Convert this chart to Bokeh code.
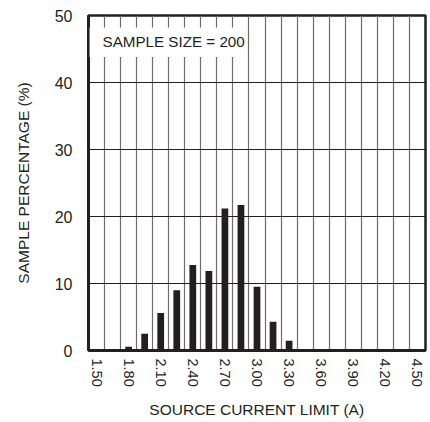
from bokeh.plotting import figure
from bokeh.models import FixedTicker, BoxAnnotation, Label, Range1d
from bokeh.embed import file_html
from bokeh.resources import INLINE

# Data (bins of source current limit, A) and sample percentage (%)
bins = [1.50, 1.65, 1.80, 1.95, 2.10, 2.25, 2.40, 2.55, 2.70, 2.85, 3.00,
        3.15, 3.30, 3.45, 3.60, 3.75, 3.90, 4.05, 4.20, 4.35, 4.50]
percent = [0, 0, 0.55, 2.5, 5.6, 9.0, 12.75, 11.85, 21.2, 21.7, 9.5,
           4.3, 1.45, 0, 0, 0, 0, 0, 0, 0, 0]
tick_labels = [1.50, 1.80, 2.10, 2.40, 2.70, 3.00, 3.30, 3.60, 3.90, 4.20, 4.50]
y_ticks = [0, 10, 20, 30, 40, 50]

FONT = "Liberation Sans"
INK = "#231f20"
BIN_W = 0.15
half = BIN_W / 2

p = figure(width=430, height=420, output_backend="svg", toolbar_location=None,
           x_range=Range1d(bins[0] - half, bins[-1] + half), y_range=Range1d(0, 50),
           min_border_left=88, min_border_right=5, min_border_top=15, min_border_bottom=68)
p.background_fill_color = "white"
p.border_fill_color = "white"
p.outline_line_color = INK
p.outline_line_width = 2.5

xs = [b for b, v in zip(bins, percent) if v > 0]
vs = [v for v in percent if v > 0]
p.vbar(x=xs, top=vs, bottom=0, width=0.063, fill_color=INK, line_color=None)

# grids
p.xgrid.ticker = FixedTicker(ticks=[b + half for b in bins[:-1]])
p.xgrid.grid_line_color = "#6d6d6d"
p.xgrid.grid_line_width = 1.2
p.ygrid.ticker = FixedTicker(ticks=y_ticks[1:-1])
p.ygrid.grid_line_color = INK
p.ygrid.grid_line_width = 1.2

# axes
p.xaxis.ticker = FixedTicker(ticks=tick_labels)
p.xaxis.major_label_overrides = {t: f"{t:.2f}" for t in tick_labels}
p.xaxis.major_label_orientation = "vertical"
p.yaxis.ticker = FixedTicker(ticks=y_ticks)
for ax in (p.xaxis, p.yaxis):
    ax.axis_line_color = INK
    ax.axis_line_width = 3
    ax.major_tick_line_color = None
    ax.minor_tick_line_color = None
    ax.major_tick_out = 0
    ax.major_tick_in = 0
    ax.major_label_text_font = FONT
    ax.major_label_text_color = INK
    ax.axis_label_text_font = FONT
    ax.axis_label_text_font_size = "15.5px"
    ax.axis_label_text_font_style = "normal"
    ax.axis_label_text_color = INK
p.xaxis.major_label_text_font_size = "14.5px"
p.yaxis.major_label_text_font_size = "16px"
p.xaxis.major_label_standoff = 8
p.yaxis.major_label_standoff = 16
p.xaxis.axis_label = "SOURCE CURRENT LIMIT (A)"
p.yaxis.axis_label = "SAMPLE PERCENTAGE (%)"
p.xaxis.axis_label_standoff = 11
p.yaxis.axis_label_standoff = 20

box = BoxAnnotation(left=bins[0] - half + 0.01, right=2.902, bottom=43.8, top=48.2,
                    fill_color="white", fill_alpha=1.0, line_color=None)
p.add_layout(box)
p.add_layout(Label(x=1.556, y=46.1, text="SAMPLE SIZE = 200", text_font=FONT,
                   text_font_size="15.2px", text_color=INK, text_baseline="middle"))

open("out.html", "w").write(file_html(p, INLINE))
